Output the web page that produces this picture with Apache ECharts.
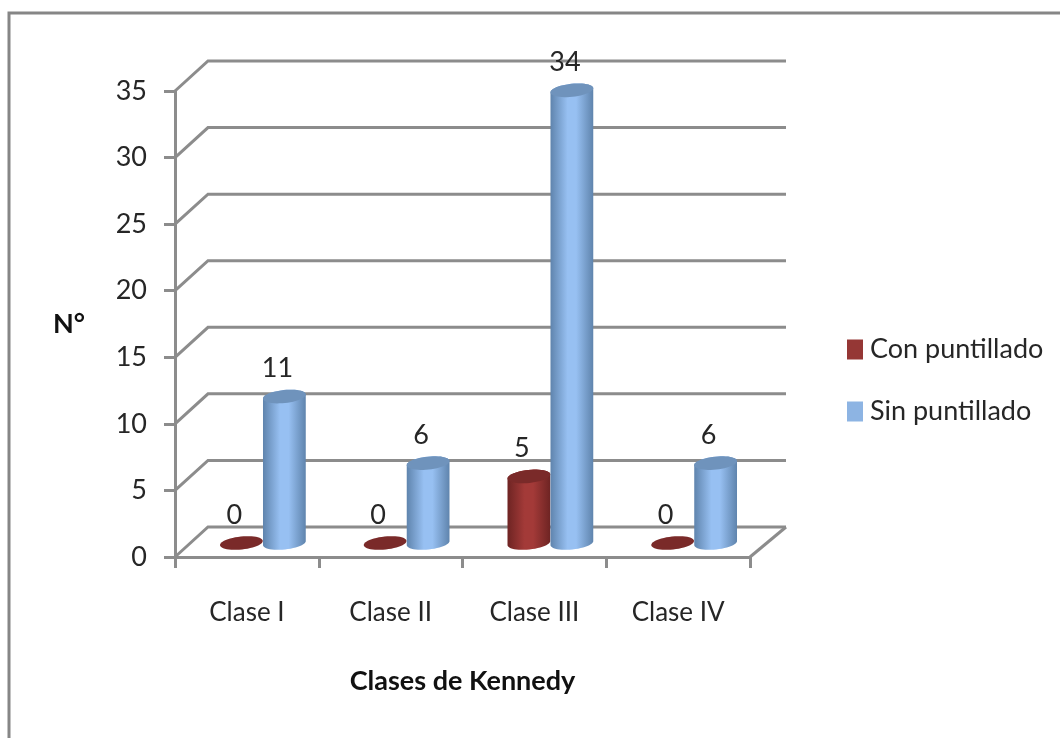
<!DOCTYPE html>
<html><head><meta charset="utf-8">
<style>html,body{margin:0;padding:0;background:#fff}#c{width:1060px;height:738px}</style>
<script src="https://cdn.jsdelivr.net/npm/echarts@6/dist/echarts.min.js"></script>
</head><body><div id="c"></div>
<script>
const categories = ['Clase I','Clase II','Clase III','Clase IV'];
const conPuntillado = [0,0,5,0];
const sinPuntillado = [11,6,34,6];
const gridValues = [0,5,10,15,20,25,30,35];
const seriesNames = ['Con puntillado','Sin puntillado'];

const FONT='Lato', TXT='#262626', LINE='#8c8c8c', LW=3;
const DX=33, DY=-30, DXR=36, RX=21.5, RY=6.5, TILT=6*Math.PI/180;

function ellipsePts(cx,cy,a0,a1,n){
  const p=[];
  for(let i=0;i<=n;i++){
    const t=a0+(a1-a0)*i/n, x=RX*Math.cos(t), y=RY*Math.sin(t);
    p.push([cx+x*Math.cos(TILT)+y*Math.sin(TILT), cy-x*Math.sin(TILT)+y*Math.cos(TILT)]);
  }
  return p;
}
function cylinder(side,colors){
  return function(params,api){
    const idx=api.value(0), val=api.value(1);
    const base=api.coord([idx,0]), top=api.coord([idx,val]);
    const cx=base[0]+16+side*21.5, by=base[1]-14, ty=top[1]-14;
    const kids=[];
    if(val>0){
      const body=ellipsePts(cx,ty,Math.PI,2*Math.PI,24).concat(ellipsePts(cx,by,0,Math.PI,24));
      kids.push({type:'polygon',shape:{points:body},style:{fill:new echarts.graphic.LinearGradient(0,0,1,0,[
        {offset:0,color:colors.edge},{offset:.4,color:colors.mid},{offset:.6,color:colors.mid},{offset:1,color:colors.edge}])}});
    }
    kids.push({type:'polygon',shape:{points:ellipsePts(cx,ty,0,2*Math.PI,48)},style:{fill:colors.cap}});
    kids.push({type:'text',style:{text:String(val),x:cx-7,y:ty-28,align:'center',verticalAlign:'middle',
      fontFamily:FONT,fontSize:27,fill:TXT}});
    return {type:'group',children:kids};
  };
}
function walls(params,api){
  const v=api.value(0);
  const first=api.coord(['Clase I',v]);
  const L=first[0]-api.size([1,0])[0]/2, R=L+api.size([1,0])[0]*categories.length, y=first[1];
  const kids=[{type:'polyline',shape:{points:[[L,y],[L+DX,y+DY],[R+DXR,y+DY]]},
    style:{stroke:LINE,lineWidth:LW,fill:null}}];
  if(v===0) kids.push({type:'line',shape:{x1:R,y1:y,x2:R+DXR,y2:y+DY},style:{stroke:LINE,lineWidth:LW}});
  return {type:'group',children:kids};
}
const chart=echarts.init(document.getElementById('c'),null,{renderer:'canvas'});
chart.setOption({
  animation:false,backgroundColor:'#fff',
  graphic:[{type:'polyline',z:-10,shape:{points:[[9,738],[9,13],[1060,13]]},style:{fill:null,stroke:'#868686',lineWidth:3}}],
  grid:{left:175,right:310,top:91,bottom:181},
  legend:{orient:'vertical',left:847,top:336,padding:0,itemWidth:16,itemHeight:20,itemGap:35,icon:'rect',
    data:seriesNames,textStyle:{fontFamily:FONT,fontSize:27,color:TXT,padding:[0,0,0,2]}},
  xAxis:{type:'category',data:categories,
    name:'Clases de Kennedy',nameLocation:'middle',nameGap:111,
    nameTextStyle:{fontFamily:FONT,fontWeight:'bold',fontSize:27,color:'#111'},
    axisLine:{show:true,lineStyle:{color:LINE,width:LW}},
    axisTick:{show:true,length:11,lineStyle:{color:LINE,width:LW}},
    axisLabel:{margin:43,fontFamily:FONT,fontSize:26,color:TXT}},
  yAxis:{type:'value',min:0,max:35,interval:5,
    name:'N°',nameLocation:'middle',nameRotate:0,nameGap:90,
    nameTextStyle:{fontFamily:FONT,fontWeight:'bold',fontSize:27,color:'#111',padding:[8,0,0,0]},
    splitLine:{show:false},
    axisLine:{show:true,lineStyle:{color:LINE,width:LW}},
    axisTick:{show:true,length:11,lineStyle:{color:LINE,width:LW}},
    axisLabel:{margin:28,fontFamily:FONT,fontSize:27,color:TXT}},
  series:[
    {type:'custom',name:'walls',z:1,silent:true,renderItem:walls,encode:{y:0},data:gridValues.map(v=>[v])},
    {type:'custom',name:seriesNames[0],z:3,itemStyle:{color:'#953735'},
      renderItem:cylinder(-1,{edge:'#6e2423',mid:'#a33a38',cap:'#7a2a29'}),
      encode:{x:0,y:1},data:conPuntillado.map((v,i)=>[i,v])},
    {type:'custom',name:seriesNames[1],z:4,itemStyle:{color:'#8db4e3'},
      renderItem:cylinder(1,{edge:'#5f84ad',mid:'#97c0f2',cap:'#6f93bc'}),
      encode:{x:0,y:1},data:sinPuntillado.map((v,i)=>[i,v])}
  ]
});
</script></body></html>
